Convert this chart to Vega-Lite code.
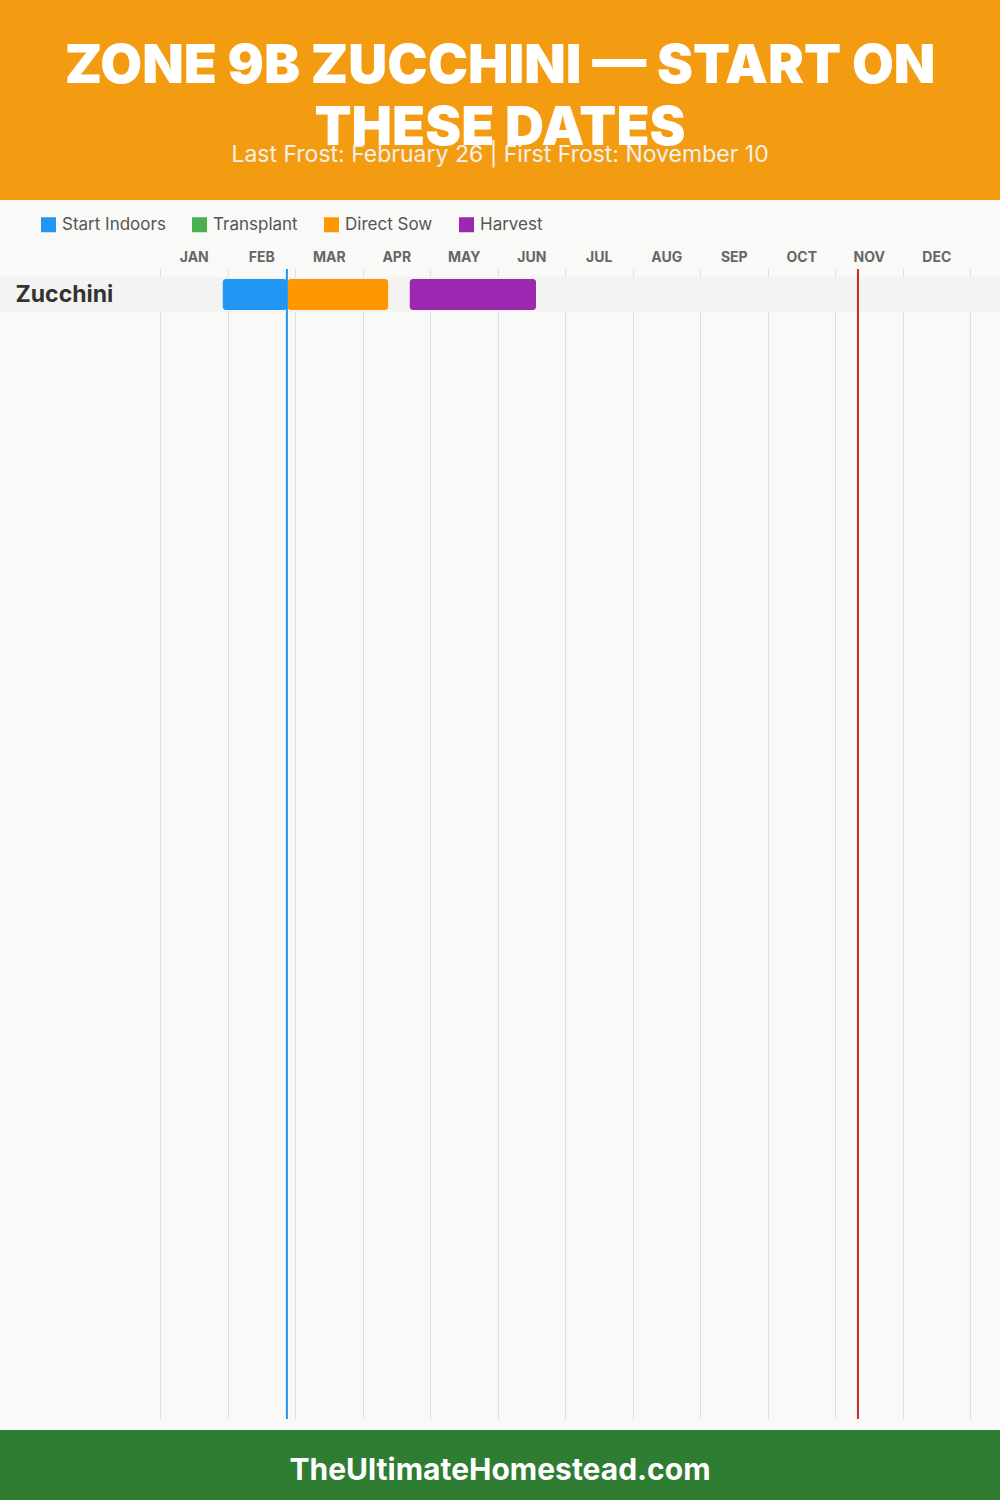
{
  "$schema": "https://vega.github.io/schema/vega-lite/v6.json",
  "padding": 0,
  "background": "#f9f9f8",
  "spacing": 0,
  "resolve": {"legend": {"color": "independent"}},
  "config": {"view": {"stroke": null}, "font": "Inter"},
  "vconcat": [
    {
      "width": 1000,
      "height": 200,
      "view": {"fill": "#F39C12", "stroke": null},
      "data": {"values": [{"title": "ZONE 9B ZUCCHINI — START ON\nTHESE DATES", "subtitle": "Last Frost: February 26 | First Frost: November 10"}]},
      "layer": [
        {
          "mark": {"type": "text", "font": "Inter", "fontWeight": 900, "fontSize": 54, "color": "#ffffff", "lineBreak": "\n", "lineHeight": 62, "baseline": "alphabetic", "align": "center", "dy": -17},
          "encoding": {"text": {"field": "title"}}
        },
        {
          "mark": {"type": "text", "font": "Inter", "fontSize": 23, "color": "#f3f0ea", "baseline": "alphabetic", "align": "center", "dy": 62},
          "encoding": {"text": {"field": "subtitle"}}
        }
      ]
    },
    {
      "width": 1000,
      "height": 1150,
      "view": {"stroke": null},
      "resolve": {"axis": {"x": "independent"}},
      "layer": [
        {
          "data": {"values": [{"crop": "Zucchini"}]},
          "mark": {"type": "rect", "color": "#f3f3f2"},
          "encoding": {
            "y": {
              "field": "crop", "type": "nominal",
              "scale": {"range": [8, 43], "paddingInner": 0, "paddingOuter": 0},
              "axis": {"orient": "left", "title": null, "domain": false, "ticks": false, "grid": false, "labelAlign": "left", "labelPadding": -15, "labelFontSize": 23, "labelFontWeight": "bold", "labelColor": "#333333", "labelFont": "Inter"}
            }
          }
        },
        {
          "data": {"values": [
            {"crop": "Zucchini", "activity": "Start Indoors", "start": 0.93, "end": 1.88},
            {"crop": "Zucchini", "activity": "Direct Sow", "start": 1.89, "end": 3.38},
            {"crop": "Zucchini", "activity": "Harvest", "start": 3.70, "end": 5.57}
          ]},
          "mark": {"type": "bar", "cornerRadius": 3, "height": {"band": 0.886}},
          "encoding": {
            "x": {
              "field": "start", "type": "quantitative",
              "scale": {"domain": [0, 12], "range": [160, 970], "nice": false, "zero": false},
              "axis": {"orient": "top", "title": null, "values": [0.5, 1.5, 2.5, 3.5, 4.5, 5.5, 6.5, 7.5, 8.5, 9.5, 10.5, 11.5],
                "labelExpr": "['JAN','FEB','MAR','APR','MAY','JUN','JUL','AUG','SEP','OCT','NOV','DEC'][floor(datum.value)]",
                "grid": false, "ticks": false, "domain": false, "labelFont": "Inter", "labelFontSize": 14, "labelFontWeight": "bold", "labelColor": "#666666", "labelPadding": 5}
            },
            "x2": {"field": "end"},
            "y": {"field": "crop", "type": "nominal"},
            "color": {
              "field": "activity", "type": "nominal",
              "scale": {"domain": ["Start Indoors", "Transplant", "Direct Sow", "Harvest"], "range": ["#2196F3", "#4CAF50", "#FF9800", "#9C27B0"]},
              "legend": {"orient": "none", "legendX": 24, "legendY": -69, "padding": 16, "direction": "horizontal", "title": null, "symbolType": "square", "symbolSize": 225, "symbolStrokeWidth": 0, "symbolOpacity": 1, "labelFontSize": 17, "labelColor": "#555555", "labelFont": "Inter", "columnPadding": 25, "labelOffset": 5}
            }
          }
        },
        {
          "data": {"values": [
            {"event": "Last Frost", "month": 1.88},
            {"event": "First Frost", "month": 10.34}
          ]},
          "mark": {"type": "rule", "strokeWidth": 2},
          "encoding": {
            "x": {
              "field": "month", "type": "quantitative",
              "axis": {"orient": "bottom", "title": null, "values": [0, 1, 2, 3, 4, 5, 6, 7, 8, 9, 10, 11, 12], "grid": true, "gridColor": "#e0e0e0", "gridWidth": 1, "labels": false, "ticks": true, "tickSize": 10, "tickColor": "transparent", "domain": false}
            },
            "color": {"condition": {"test": "datum.event === 'Last Frost'", "value": "#2196F3"}, "value": "#C62828"}
          }
        }
      ]
    },
    {
      "width": 1000,
      "height": 70,
      "view": {"fill": "#2E7D32", "stroke": null},
      "data": {"values": [{"site": "TheUltimateHomestead.com"}]},
      "mark": {"type": "text", "font": "Inter", "fontSize": 30, "fontWeight": "bold", "color": "#ffffff", "baseline": "middle", "align": "center", "dy": 6},
      "encoding": {"text": {"field": "site"}}
    }
  ]
}
